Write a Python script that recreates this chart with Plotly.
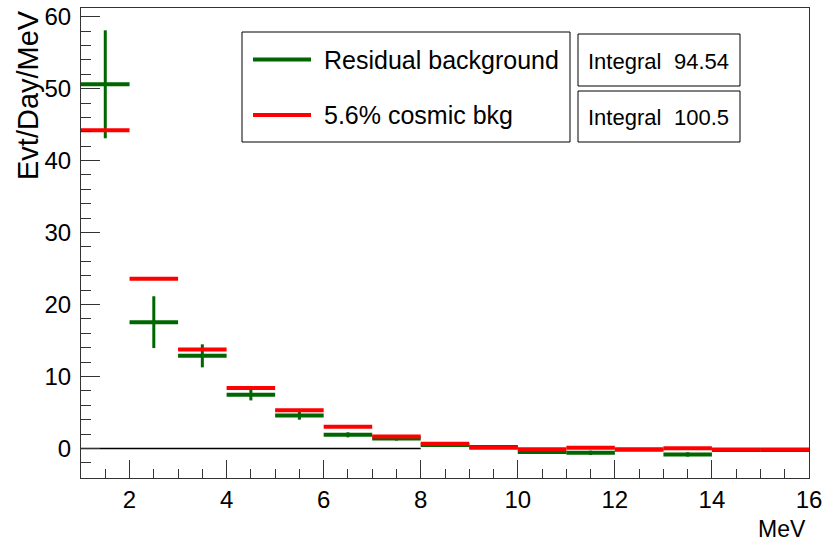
import plotly.graph_objects as go

# Energy bins (MeV): lower and upper edges
bin_lo = [1, 2, 3, 4, 5, 6, 7, 8, 9, 10, 11, 12, 13, 14, 15]
bin_hi = [2, 3, 4, 5, 6, 7, 8, 9, 10, 11, 12, 13, 14, 15, 16]

# Residual background (Evt/Day/MeV) with statistical errors
resid_vals = [50.6, 17.55, 12.87, 7.48, 4.6, 1.9, 1.4, 0.5, 0.2, -0.5, -0.6, -0.15, -0.83, -0.2, -0.2]
resid_errs = [7.5, 3.6, 1.6, 0.8, 0.6, 0.35, 0.3, 0.15, 0.15, 0.15, 0.3, 0.1, 0.3, 0.1, 0.1]

# 5.6% cosmic background estimate
cosmic_vals = [44.2, 23.6, 13.75, 8.41, 5.3, 3.02, 1.67, 0.65, 0.1, -0.1, 0.1, -0.13, 0.05, -0.13, -0.13]

# Reference line at zero
zero_x = [1, 8]
zero_y = [0, 0]

legend_labels = ["Residual background", "5.6% cosmic bkg"]
integrals = ["94.54", "100.5"]

GREEN = "#006600"
RED = "#ff0000"
FONT = "Liberation Sans, Arial, sans-serif"

# plot area in pixels
W, H = 824, 543
L, R, T, B = 81, 15, 8, 65
PW, PH = W - L - R, H - T - B


def px(x):
    return (x - L) / PW


def py(y):
    return (H - B - y) / PH


def step_segments(lo, hi, vals):
    xs, ys = [], []
    for a, b, v in zip(lo, hi, vals):
        xs += [a, b, None]
        ys += [v, v, None]
    return xs, ys


def err_segments(lo, hi, vals, errs):
    xs, ys = [], []
    for a, b, v, e in zip(lo, hi, vals, errs):
        c = 0.5 * (a + b)
        xs += [c, c, None]
        ys += [v - e, v + e, None]
    return xs, ys


fig = go.Figure()

fig.add_trace(go.Scatter(x=zero_x, y=zero_y, mode="lines",
                         line=dict(color="black", width=1.5), showlegend=False, hoverinfo="skip"))

cx, cy = step_segments(bin_lo, bin_hi, cosmic_vals)
gx, gy = step_segments(bin_lo, bin_hi, resid_vals)
ex, ey = err_segments(bin_lo, bin_hi, resid_vals, resid_errs)

fig.add_trace(go.Scatter(x=gx, y=gy, mode="lines", line=dict(color=GREEN, width=4),
                         showlegend=False))
fig.add_trace(go.Scatter(x=ex, y=ey, mode="lines", line=dict(color=GREEN, width=3),
                         showlegend=False))
fig.add_trace(go.Scatter(x=cx, y=cy, mode="lines", line=dict(color=RED, width=4),
                         showlegend=False))

shapes = []
annotations = []

# legend box
shapes.append(dict(type="rect", xref="paper", yref="paper",
                   x0=px(242), x1=px(570), y0=py(142), y1=py(32),
                   line=dict(color="black", width=1), fillcolor="white", layer="above"))
for i, (lab, col) in enumerate(zip(legend_labels, [GREEN, RED])):
    yc = [59.5, 115][i]
    shapes.append(dict(type="line", xref="paper", yref="paper",
                       x0=px(253), x1=px(311), y0=py(yc), y1=py(yc),
                       line=dict(color=col, width=4), layer="above"))
    annotations.append(dict(xref="paper", yref="paper", x=px(322), y=py(yc),
                            xanchor="left", yanchor="middle", showarrow=False,
                            text=lab, font=dict(family=FONT, size=25, color="black")))

# statistics boxes
for i, val in enumerate(integrals):
    top, bot = [(34, 86), (91, 142)][i]
    shapes.append(dict(type="rect", xref="paper", yref="paper",
                       x0=px(578), x1=px(740), y0=py(bot), y1=py(top),
                       line=dict(color="black", width=1), fillcolor="white", layer="above"))
    yc = 0.5 * (top + bot) + 1
    annotations.append(dict(xref="paper", yref="paper", x=px(586), y=py(yc),
                            xanchor="left", yanchor="middle", showarrow=False,
                            text="Integral", font=dict(family=FONT, size=22, color="black")))
    annotations.append(dict(xref="paper", yref="paper", x=px(731), y=py(yc),
                            xanchor="right", yanchor="middle", showarrow=False,
                            text=val, font=dict(family=FONT, size=22, color="black")))

# axis titles
annotations.append(dict(xref="paper", yref="paper", x=px(28), y=py(8),
                        xanchor="center", yanchor="top", showarrow=False, textangle=-90,
                        text="Evt/Day/MeV", font=dict(family=FONT, size=29, color="black")))
annotations.append(dict(xref="paper", yref="paper", x=px(808), y=py(529),
                        xanchor="right", yanchor="middle", showarrow=False,
                        text="MeV", font=dict(family=FONT, size=23, color="black")))

fig.update_layout(
    width=W, height=H,
    margin=dict(l=L, r=R, t=T, b=B),
    paper_bgcolor="white", plot_bgcolor="white",
    showlegend=False,
    shapes=shapes, annotations=annotations,
    font=dict(family=FONT, size=23, color="black"),
)

fig.update_xaxes(range=[1, 16], tick0=0, dtick=2, ticks="inside", ticklen=18,
                 tickcolor="#333", tickwidth=1, showgrid=False, zeroline=False,
                 showline=True, linecolor="#333", linewidth=1, mirror=True,
                 automargin=False, ticklabelstandoff=0,
                 minor=dict(ticks="inside", ticklen=9, dtick=0.5, tick0=0,
                            tickcolor="#333", showgrid=False),
                 tickfont=dict(family=FONT, size=24))
fig.update_yaxes(range=[-4.1, 61.2], tick0=0, dtick=10, ticks="inside", ticklen=19,
                 tickcolor="#333", tickwidth=1, showgrid=False, zeroline=False,
                 showline=True, linecolor="#333", linewidth=1, mirror=True,
                 automargin=False, ticklabelstandoff=4,
                 minor=dict(ticks="inside", ticklen=10, dtick=2, tick0=0,
                            tickcolor="#333", showgrid=False),
                 tickfont=dict(family=FONT, size=24))

fig.write_html("out.html")
